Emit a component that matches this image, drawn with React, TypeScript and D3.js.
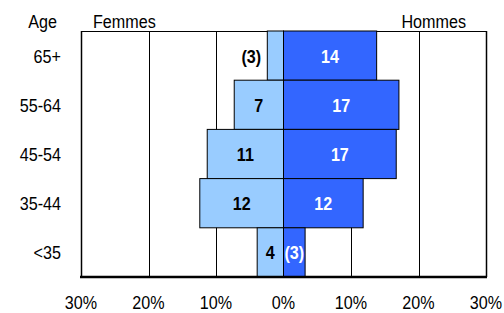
import React, { useEffect, useRef } from "react";
import * as d3 from "d3";

// age groups, top to bottom
const ages = ["65+", "55-64", "45-54", "35-44", "<35"];
// percentages
const femmes = [2.4, 7.3, 11.3, 12.4, 3.9];
const hommes = [13.8, 17.1, 16.7, 11.8, 3.2];
const femmesLabels = ["(3)", "7", "11", "12", "4"];
const hommesLabels = ["14", "17", "17", "12", "(3)"];
const ticks = [-30, -20, -10, 0, 10, 20, 30];

const W = 504;
const H = 313;

const App = () => {
  const svgRef = useRef<SVGSVGElement>(null);

  useEffect(() => {
    const margin = { top: 31, right: 18, bottom: 36, left: 81 };
    const svg = d3.select(svgRef.current);
    svg.selectAll("*").remove();

    const x = d3
      .scaleLinear()
      .domain([-30, 30])
      .range([margin.left, W - margin.right]);

    const y = d3
      .scaleBand()
      .domain(ages)
      .range([margin.top, H - margin.bottom])
      .padding(0);

    const font = "Liberation Sans, Arial, sans-serif";
    const fs = 17;
    // text slightly taller than wide, like the original
    const place = (px: number, py: number) =>
      `translate(${px},${py}) scale(0.95,1.08)`;

    // frame + gridlines
    svg
      .append("g")
      .selectAll("line")
      .data(ticks)
      .enter()
      .append("line")
      .attr("x1", (d) => Math.round(x(d)) + 0.5)
      .attr("x2", (d) => Math.round(x(d)) + 0.5)
      .attr("y1", margin.top)
      .attr("y2", H - margin.bottom)
      .attr("stroke", "#000")
      .attr("stroke-width", (d) => (Math.abs(d) === 30 ? 1.5 : 1));

    svg
      .append("line")
      .attr("x1", x(-30))
      .attr("x2", x(30))
      .attr("y1", margin.top + 0.5)
      .attr("y2", margin.top + 0.5)
      .attr("stroke", "#000");

    // femmes bars (left side)
    svg
      .append("g")
      .selectAll("rect")
      .data(femmes)
      .enter()
      .append("rect")
      .attr("x", (d) => x(-d))
      .attr("y", (d, i) => y(ages[i])!)
      .attr("width", (d) => x(0) - x(-d))
      .attr("height", y.bandwidth())
      .attr("fill", "#99ccff")
      .attr("stroke", "#000")
      .attr("stroke-width", 1);

    // hommes bars (right side)
    svg
      .append("g")
      .selectAll("rect")
      .data(hommes)
      .enter()
      .append("rect")
      .attr("x", x(0))
      .attr("y", (d, i) => y(ages[i])!)
      .attr("width", (d) => x(d) - x(0))
      .attr("height", y.bandwidth())
      .attr("fill", "#3366ff")
      .attr("stroke", "#000")
      .attr("stroke-width", 1);

    // bottom axis line
    svg
      .append("line")
      .attr("x1", x(-30) - 1)
      .attr("x2", x(30) + 1)
      .attr("y1", H - margin.bottom)
      .attr("y2", H - margin.bottom)
      .attr("stroke", "#000")
      .attr("stroke-width", 2.5);

    // value labels
    svg
      .append("g")
      .selectAll("text")
      .data(femmes)
      .enter()
      .append("text")
      .attr("transform", (d, i) =>
        place(
          femmesLabels[i].startsWith("(") && d < 3
            ? x(-d) - 16
            : (x(-d) + x(0)) / 2,
          y(ages[i])! + y.bandwidth() / 2 + 7
        )
      )
      .attr("text-anchor", "middle")
      .attr("font-family", font)
      .attr("font-weight", "bold")
      .attr("font-size", fs)
      .attr("fill", "#000")
      .text((d, i) => femmesLabels[i]);

    svg
      .append("g")
      .selectAll("text")
      .data(hommes)
      .enter()
      .append("text")
      .attr("transform", (d, i) =>
        place((x(0) + x(d)) / 2, y(ages[i])! + y.bandwidth() / 2 + 7)
      )
      .attr("text-anchor", "middle")
      .attr("font-family", font)
      .attr("font-weight", "bold")
      .attr("font-size", fs)
      .attr("fill", "#fff")
      .text((d, i) => hommesLabels[i]);

    // age labels
    svg
      .append("g")
      .selectAll("text")
      .data(ages)
      .enter()
      .append("text")
      .attr("transform", (d) => place(61, y(d)! + y.bandwidth() / 2 + 7))
      .attr("text-anchor", "end")
      .attr("font-family", font)
      .attr("font-size", fs)
      .text((d) => d);

    // x tick labels
    svg
      .append("g")
      .selectAll("text")
      .data(ticks)
      .enter()
      .append("text")
      .attr("transform", (d) => place(x(d), 309))
      .attr("text-anchor", "middle")
      .attr("font-family", font)
      .attr("font-size", fs)
      .text((d) => `${Math.abs(d)}%`);

    // headers
    svg
      .append("text")
      .attr("transform", place(57, 28))
      .attr("text-anchor", "end")
      .attr("font-family", font)
      .attr("font-size", fs)
      .text("Age");
    svg
      .append("text")
      .attr("transform", place(93, 28))
      .attr("font-family", font)
      .attr("font-size", fs)
      .text("Femmes");
    svg
      .append("text")
      .attr("transform", place(466, 28))
      .attr("text-anchor", "end")
      .attr("font-family", font)
      .attr("font-size", fs)
      .text("Hommes");
  }, []);

  return (
    <svg
      ref={svgRef}
      width={W}
      height={H}
      style={{ position: "absolute", left: 0, top: 0, background: "#fff" }}
    ></svg>
  );
};

export default App;
